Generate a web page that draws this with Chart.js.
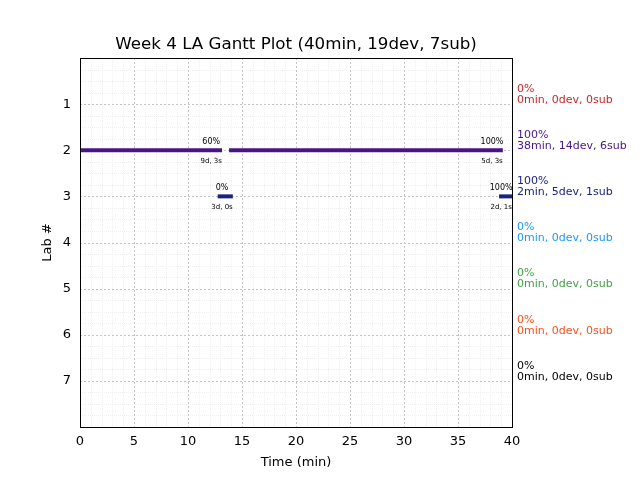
<!DOCTYPE html>
<html>
<head>
<meta charset="utf-8">
<script src="https://cdn.jsdelivr.net/npm/chart.js@4/dist/chart.umd.min.js"></script>
<style>
  html, body { margin: 0; padding: 0; background: #fff; }
  #wrap { width: 640px; height: 480px; }
</style>
</head>
<body>
<div id="wrap"><canvas id="gantt" width="640" height="480"></canvas></div>
<script>
// Gantt data
const labs = [1, 2, 3, 4, 5, 6, 7];
const labColors = ['#c62828', '#4a1486', '#1a237e', '#2196f3', '#43a047', '#f4511e', '#000000'];
const labPct = ['0%', '100%', '100%', '0%', '0%', '0%', '0%'];
const labSummary = [
    '0min, 0dev, 0sub',
    '38min, 14dev, 6sub',
    '2min, 5dev, 1sub',
    '0min, 0dev, 0sub',
    '0min, 0dev, 0sub',
    '0min, 0dev, 0sub',
    '0min, 0dev, 0sub'
];

// one entry per bar segment
const segLab = [2, 2, 3, 3];
const segStart = [0, 13.8, 12.75, 38.8];
const segEnd = [13.15, 39.15, 14.15, 40];
const segPct = ['60%', '100%', '0%', '100%'];
const segNote = ['9d, 3s', '5d, 3s', '3d, 0s', '2d, 1s'];

const xTicks = [0, 5, 10, 15, 20, 25, 30, 35, 40];

const FONT = 'DejaVu Sans';

const datasets = segLab.map((lab, i) => ({
    data: [{ x: segStart[i], y: lab }, { x: segEnd[i], y: lab }],
    borderColor: labColors[lab - 1],
    borderWidth: 4,
    borderCapStyle: 'butt',
    pointRadius: 0,
    fill: false
}));

// grid, frame, title and text annotations
const ganttDecor = {
    id: 'ganttDecor',
    beforeDatasetsDraw(chart) {
        const { ctx, chartArea: a, scales: { x, y } } = chart;
        ctx.save();
        ctx.lineWidth = 1;
        // minor grid
        ctx.strokeStyle = '#f0f0f0';
        ctx.setLineDash([1, 1]);
        for (let v = 1; v < 40; v++) {
            if (v % 5 === 0) continue;
            const px = Math.round(x.getPixelForValue(v)) + 0.5;
            ctx.beginPath(); ctx.moveTo(px, a.top); ctx.lineTo(px, a.bottom); ctx.stroke();
        }
        for (let v = 0.25; v < 8; v += 0.25) {
            if (Math.abs(v - Math.round(v)) < 1e-6) continue;
            const py = Math.round(y.getPixelForValue(v)) + 0.5;
            ctx.beginPath(); ctx.moveTo(a.left, py); ctx.lineTo(a.right, py); ctx.stroke();
        }
        // major grid
        ctx.strokeStyle = '#c4c4c4';
        ctx.setLineDash([2, 2]);
        xTicks.forEach(v => {
            const px = Math.round(x.getPixelForValue(v)) + 0.5;
            ctx.beginPath(); ctx.moveTo(px, a.top); ctx.lineTo(px, a.bottom); ctx.stroke();
        });
        labs.forEach(v => {
            const py = Math.round(y.getPixelForValue(v)) + 0.5;
            ctx.beginPath(); ctx.moveTo(a.left, py); ctx.lineTo(a.right, py); ctx.stroke();
        });
        ctx.restore();
    },
    afterDraw(chart) {
        const { ctx, chartArea: a, scales: { x, y } } = chart;
        ctx.save();
        // frame
        ctx.strokeStyle = '#000';
        ctx.lineWidth = 1;
        ctx.strokeRect(Math.round(a.left) + 0.5, Math.round(a.top) + 0.5,
            Math.round(a.right - a.left), Math.round(a.bottom - a.top));

        // title
        ctx.fillStyle = '#000';
        ctx.textAlign = 'center';
        ctx.textBaseline = 'middle';
        ctx.font = '16.7px "' + FONT + '"';
        ctx.fillText('Week 4 LA Gantt Plot (40min, 19dev, 7sub)', (a.left + a.right) / 2, 45);

        // segment labels
        segLab.forEach((lab, i) => {
            const px = x.getPixelForValue(segEnd[i] - 1);
            const py = y.getPixelForValue(lab);
            ctx.font = '8px "' + FONT + '"';
            ctx.fillText(segPct[i], px, py - 8);
            ctx.font = '7px "' + FONT + '"';
            ctx.fillText(segNote[i], px, py + 11);
        });

        // per-lab summaries on the right
        ctx.textAlign = 'left';
        ctx.font = '11px "' + FONT + '"';
        labs.forEach((lab, i) => {
            const py = y.getPixelForValue(lab);
            ctx.fillStyle = labColors[i];
            ctx.fillText(labPct[i], a.right + 5, py - 15);
            ctx.fillText(labSummary[i], a.right + 5, py - 4);
        });
        ctx.restore();
    }
};

new Chart(document.getElementById('gantt'), {
    type: 'line',
    data: { datasets },
    options: {
        responsive: false,
        animation: false,
        layout: { padding: { top: 58, right: 128, left: 0, bottom: 0 } },
        plugins: {
            legend: { display: false },
            tooltip: { enabled: false }
        },
        scales: {
            x: {
                type: 'linear',
                min: 0,
                max: 40,
                afterFit: s => { s.height = 53; },
                afterBuildTicks: s => { s.ticks = xTicks.map(v => ({ value: v })); },
                grid: { display: false, drawTicks: false },
                border: { display: false },
                ticks: { color: '#000', padding: 7, font: { family: FONT, size: 13 } },
                title: { display: true, text: 'Time (min)', color: '#000', padding: { top: 0, bottom: 10 }, font: { family: FONT, size: 13 } }
            },
            y: {
                type: 'linear',
                reverse: true,
                min: 0,
                max: 8,
                afterFit: s => { s.width = 80; },
                afterBuildTicks: s => { s.ticks = labs.map(v => ({ value: v })); },
                grid: { display: false, drawTicks: false },
                border: { display: false },
                ticks: { color: '#000', padding: 9, font: { family: FONT, size: 13 } },
                title: { display: true, text: 'Lab #', color: '#000', padding: { top: 40, bottom: 0 }, font: { family: FONT, size: 13 } }
            }
        }
    },
    plugins: [ganttDecor]
});
</script>
</body>
</html>
